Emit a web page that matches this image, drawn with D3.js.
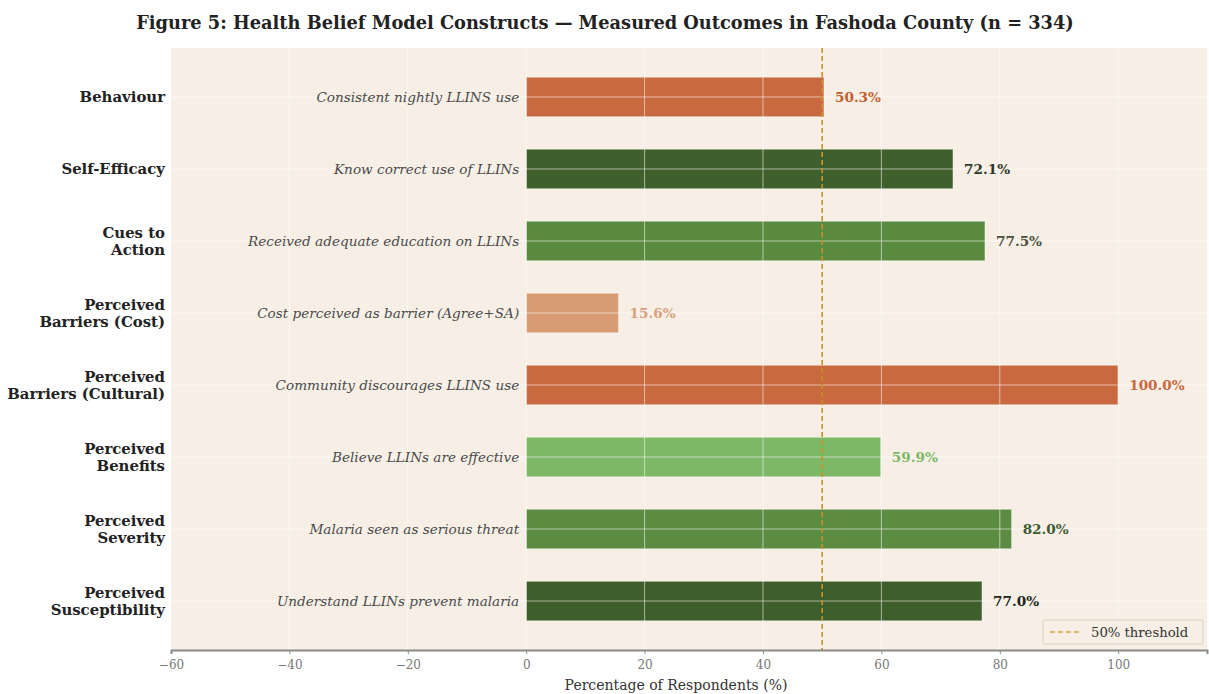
<!DOCTYPE html>
<html>
<head>
<meta charset="utf-8">
<script src="https://cdn.jsdelivr.net/npm/d3@7"></script>
<style>
  html, body { margin: 0; padding: 0; background: #ffffff; }
  svg { display: block; }
  text { font-family: "DejaVu Serif", serif; }
</style>
</head>
<body>
<svg id="chart" width="1209" height="694"></svg>
<script>
// ---- Data ----
const categories = [
  "Behaviour",
  "Self-Efficacy",
  "Cues to\nAction",
  "Perceived\nBarriers (Cost)",
  "Perceived\nBarriers (Cultural)",
  "Perceived\nBenefits",
  "Perceived\nSeverity",
  "Perceived\nSusceptibility"
];
const descriptions = [
  "Consistent nightly LLINS use",
  "Know correct use of LLINs",
  "Received adequate education on LLINs",
  "Cost perceived as barrier (Agree+SA)",
  "Community discourages LLINS use",
  "Believe LLINs are effective",
  "Malaria seen as serious threat",
  "Understand LLINs prevent malaria"
];
const values = [50.3, 72.1, 77.5, 15.6, 100.0, 59.9, 82.0, 77.0];
const barColors = ["#c8693f", "#3f5f2c", "#5a8a3f", "#d99b74", "#c8693f", "#7cb866", "#5b8c42", "#3e5e2b"];
const labelColors = ["#c0602f", "#2e3626", "#4a4f40", "#d9a07c", "#c8693f", "#7cb866", "#3f5a32", "#1f2618"];
const xTicks = [-60, -40, -20, 0, 20, 40, 60, 80, 100];
const threshold = 50;
const titleText = "Figure 5: Health Belief Model Constructs \u2014 Measured Outcomes in Fashoda County (n = 334)";
const xLabel = "Percentage of Respondents (%)";
const legendLabel = "50% threshold";

// ---- Layout ----
const svg = d3.select("#chart");
const plot = { left: 171, right: 1207, top: 48, bottom: 650 };

const x = d3.scaleLinear().domain([-60, 115]).range([plot.left, plot.right]);
const y = d3.scaleBand()
  .domain(d3.range(categories.length))
  .range([plot.top, plot.bottom])
  .paddingInner(0.45)
  .paddingOuter(0.405);

// Plot background
svg.append("rect")
  .attr("x", plot.left).attr("y", plot.top)
  .attr("width", plot.right - plot.left).attr("height", plot.bottom - plot.top)
  .attr("fill", "#f7efe6");

// Title
svg.append("text")
  .attr("x", 605).attr("y", 29)
  .attr("text-anchor", "middle")
  .attr("font-size", 17.8).attr("font-weight", "bold")
  .attr("fill", "#222")
  .text(titleText);

// Bars
svg.append("g").selectAll("rect")
  .data(values)
  .join("rect")
  .attr("x", x(0))
  .attr("y", (d, i) => y(i))
  .attr("width", d => x(d) - x(0))
  .attr("height", y.bandwidth())
  .attr("fill", (d, i) => barColors[i])
  .attr("stroke", "#ffffff").attr("stroke-opacity", 0.5).attr("stroke-width", 1);

// Grid (above bars, light)
const grid = svg.append("g").attr("stroke", "#ffffff").attr("stroke-opacity", 0.55).attr("stroke-width", 1);
grid.selectAll("line.v")
  .data(xTicks)
  .join("line")
  .attr("class", "v")
  .attr("x1", d => x(d)).attr("x2", d => x(d))
  .attr("y1", plot.top).attr("y2", plot.bottom);
grid.selectAll("line.h")
  .data(d3.range(categories.length))
  .join("line")
  .attr("class", "h")
  .attr("x1", plot.left).attr("x2", plot.right)
  .attr("y1", i => y(i) + y.bandwidth() / 2).attr("y2", i => y(i) + y.bandwidth() / 2);

// Threshold line
svg.append("line")
  .attr("x1", x(threshold)).attr("x2", x(threshold))
  .attr("y1", plot.top).attr("y2", plot.bottom)
  .attr("stroke", "#c8922a").attr("stroke-width", 1.6)
  .attr("stroke-dasharray", "5,3");

// Description labels (italic, left of bars)
svg.append("g").selectAll("text")
  .data(descriptions)
  .join("text")
  .attr("x", x(0) - 7)
  .attr("y", (d, i) => y(i) + y.bandwidth() / 2)
  .attr("dy", "0.35em")
  .attr("text-anchor", "end")
  .attr("font-size", 13.6).attr("font-style", "italic")
  .attr("fill", "#4a4a4a")
  .text(d => d);

// Value labels
svg.append("g").selectAll("text")
  .data(values)
  .join("text")
  .attr("x", d => x(d) + 11)
  .attr("y", (d, i) => y(i) + y.bandwidth() / 2)
  .attr("dy", "0.35em")
  .attr("font-size", 13.6).attr("font-weight", "bold")
  .attr("fill", (d, i) => labelColors[i])
  .text(d => d.toFixed(1) + "%");

// Category labels (left)
const catG = svg.append("g");
categories.forEach((c, i) => {
  const lines = c.split("\n");
  const cy = y(i) + y.bandwidth() / 2;
  const lh = 17;
  const t = catG.append("text")
    .attr("text-anchor", "end")
    .attr("font-size", 14.9).attr("font-weight", "bold")
    .attr("fill", "#222");
  lines.forEach((ln, k) => {
    t.append("tspan")
      .attr("x", 165)
      .attr("y", cy + (k - (lines.length - 1) / 2) * lh)
      .attr("dy", "0.35em")
      .text(ln);
  });
});

// X axis
const xAxis = d3.axisBottom(x).tickValues(xTicks).tickSize(4).tickPadding(6)
  .tickFormat(d => d < 0 ? "\u2212" + Math.abs(d) : d);
const axG = svg.append("g")
  .attr("transform", `translate(0,${plot.bottom})`)
  .call(xAxis);
axG.select(".domain").attr("stroke", "#8a8a8a").attr("stroke-width", 2);
axG.selectAll(".tick line").attr("stroke", "#8a8a8a");
axG.selectAll(".tick text").attr("fill", "#777").attr("font-size", 12)
  .attr("font-family", "DejaVu Serif, serif");

svg.append("text")
  .attr("x", 676).attr("y", 690)
  .attr("text-anchor", "middle")
  .attr("font-size", 14).attr("fill", "#333")
  .text(xLabel);

// Legend
const lg = svg.append("g").attr("transform", "translate(1043,620)");
lg.append("rect")
  .attr("width", 160).attr("height", 24).attr("rx", 2)
  .attr("fill", "#f7efe6").attr("stroke", "#d8d0c4").attr("stroke-width", 1);
lg.append("line")
  .attr("x1", 7).attr("x2", 37).attr("y1", 12).attr("y2", 12)
  .attr("stroke", "#d4a040").attr("stroke-width", 1.6).attr("stroke-dasharray", "5,3");
lg.append("text")
  .attr("x", 48).attr("y", 12).attr("dy", "0.35em")
  .attr("font-size", 13.2).attr("fill", "#333")
  .text(legendLabel);
</script>
</body>
</html>
